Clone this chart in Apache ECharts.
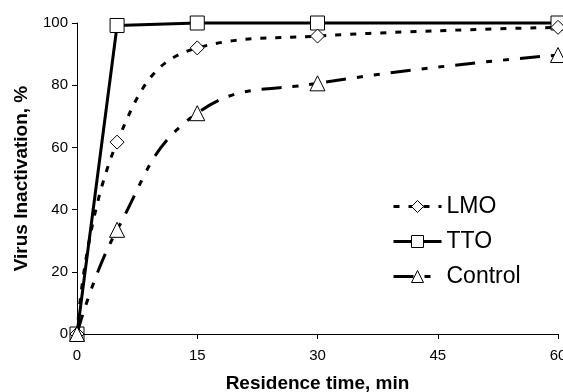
<!DOCTYPE html>
<html>
<head>
<meta charset="utf-8">
<script src="https://cdn.jsdelivr.net/npm/echarts@6/dist/echarts.min.js"></script>
<style>
  html, body { margin: 0; padding: 0; background: #fff; }
  #container { width: 563px; height: 392px; }
</style>
</head>
<body>
<div id="container"></div>
<script>
// residence time (min) and inactivation (%)
const times = [0, 5, 15, 30, 60]
const lmo = [0, 61.7, 92, 95.8, 98.6]
const tto = [0, 99.2, 100, 100, 100]
const control = [0, 33.5, 71, 80.6, 89.7]
const xTicks = [0, 15, 30, 45, 60]
const yTicks = [0, 20, 40, 60, 80, 100]

const pairs = (ys) => times.map((t, i) => [t, ys[i]])
const font = 'Liberation Sans, Arial, sans-serif'

const myChart = echarts.init(document.getElementById('container'))

const marker = {
  color: '#fff',
  borderColor: '#000',
  borderWidth: 1
}

myChart.setOption({
  animation: false,
  backgroundColor: '#fff',
  grid: {
    left: 77,
    right: 5,
    top: 23,
    bottom: 58,
    outerBoundsMode: 'none',
    containLabel: false
  },
  legend: {
    orient: 'vertical',
    left: 387,
    top: 190,
    itemWidth: 48,
    itemHeight: 15,
    itemGap: 12,
    itemStyle: { color: '#fff', borderColor: '#000', borderWidth: 1 },
    lineStyle: { width: 3 },
    textStyle: { fontFamily: font, fontSize: 23, color: '#000' },
    data: ['LMO', 'TTO', 'Control']
  },
  xAxis: {
    type: 'value',
    min: xTicks[0],
    max: xTicks[xTicks.length - 1],
    interval: 15,
    name: 'Residence time, min',
    nameLocation: 'middle',
    nameGap: 40,
    nameTextStyle: { fontFamily: font, fontSize: 19, fontWeight: 'bold', color: '#000' },
    splitLine: { show: false },
    axisLine: { lineStyle: { color: '#000', width: 1 } },
    axisTick: { inside: false, length: 5, lineStyle: { color: '#000' } },
    axisLabel: { fontFamily: font, fontSize: 15, color: '#000', margin: 14 }
  },
  yAxis: {
    type: 'value',
    min: yTicks[0],
    max: yTicks[yTicks.length - 1],
    interval: 20,
    name: 'Virus Inactivation, %',
    nameLocation: 'middle',
    nameGap: 46,
    nameTextStyle: { fontFamily: font, fontSize: 19, fontWeight: 'bold', color: '#000' },
    splitLine: { show: false },
    axisLine: { show: true, lineStyle: { color: '#000', width: 1 } },
    axisTick: { show: true, length: 5, lineStyle: { color: '#000' } },
    axisLabel: { fontFamily: font, fontSize: 15, color: '#000', margin: 9 }
  },
  series: [
    {
      name: 'LMO',
      type: 'line',
      data: pairs(lmo),
      smooth: 0.45,
      clip: false,
      symbol: 'diamond',
      symbolSize: 14,
      itemStyle: marker,
      lineStyle: { color: '#000', width: 3, type: [6, 9] },
      z: 3
    },
    {
      name: 'TTO',
      type: 'line',
      data: pairs(tto),
      clip: false,
      symbol: 'rect',
      symbolSize: 14,
      itemStyle: marker,
      lineStyle: { color: '#000', width: 3 },
      z: 2
    },
    {
      name: 'Control',
      type: 'line',
      data: pairs(control),
      smooth: 0.45,
      clip: false,
      symbol: 'triangle',
      symbolSize: 15,
      itemStyle: marker,
      lineStyle: { color: '#000', width: 3, type: [20, 11, 6, 11, 6, 11] },
      z: 4
    }
  ]
})
</script>
</body>
</html>
